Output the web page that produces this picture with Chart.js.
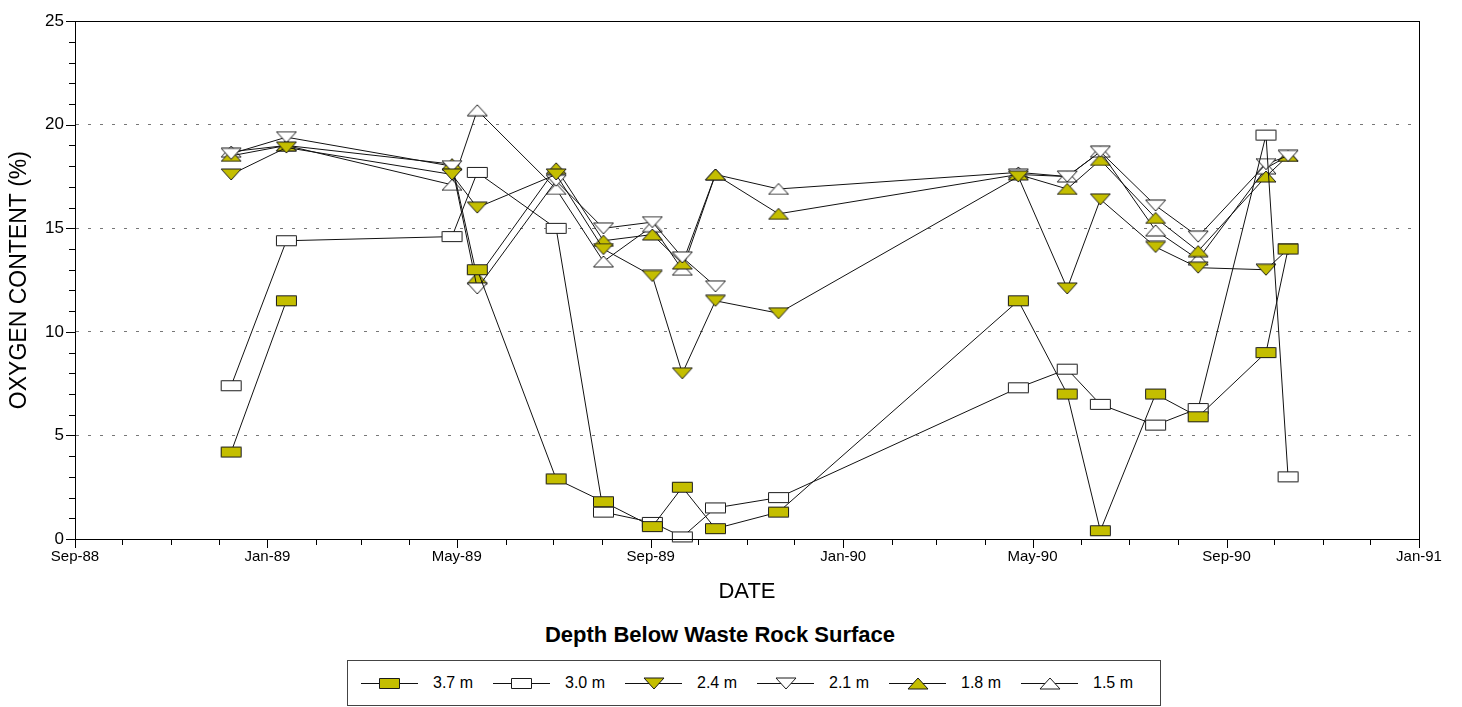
<!DOCTYPE html>
<html>
<head>
<meta charset="utf-8">
<script src="https://cdn.jsdelivr.net/npm/chart.js@4.4.1/dist/chart.umd.min.js"></script>
<style>
    body { margin: 0; background: #fff; font-family: Arial, "Liberation Sans", sans-serif; }
    #wrap { position: relative; width: 1462px; height: 707px; }
    #chartBox { position: absolute; left: 0; top: 0; width: 1462px; height: 620px; }
    #legendTitle { position: absolute; left: 0; top: 622px; width: 1440px; text-align: center; font-weight: bold; font-size: 22px; }
    #legend { position: absolute; left: 347px; top: 660px; width: 812px; height: 44px; border: 1px solid #444; box-sizing: content-box; }
    .item { position: absolute; top: 0; height: 44px; display: flex; align-items: center; font-size: 16px; }
    .item span { margin-left: 15px; }
</style>
</head>
<body>
<div id="wrap">
    <div id="chartBox"><canvas id="grafico"></canvas></div>
    <div id="legendTitle">Depth Below Waste Rock Surface</div>
    <div id="legend"></div>
</div>
<script>
// fechas de muestreo
const fechas = ['1988-12-09', '1989-01-13', '1989-04-28', '1989-05-14', '1989-07-03', '1989-08-02',
    '1989-09-02', '1989-09-21', '1989-10-12', '1989-11-21', '1990-04-22', '1990-05-23',
    '1990-06-13', '1990-07-18', '1990-08-14', '1990-09-26', '1990-10-10'];

// contenido de oxigeno (%) por profundidad
const prof37 = [4.2, 11.5, null, 13.0, 2.9, 1.8, 0.6, 2.5, 0.5, 1.3, 11.5, 7.0, 0.4, 7.0, 5.9, 9.0, 14.0];
const prof30 = [7.4, 14.4, 14.6, 17.7, 15.0, 1.3, 0.8, 0.1, 1.5, 2.0, 7.3, 8.2, 6.5, 5.5, 6.3, 19.5, 3.0];
const prof24 = [17.6, 18.9, 17.6, 16.0, 17.6, 14.0, 12.7, 8.0, 11.5, 10.9, 17.5, 12.1, 16.4, 14.1, 13.1, 13.0, 14.0];
const prof21 = [18.6, 19.4, 18.0, 12.1, 17.3, 15.0, 15.3, 13.6, 12.2, null, 17.6, 17.5, 18.7, 16.1, 14.6, 18.1, 18.5];
const prof18 = [18.5, 19.0, 18.1, 12.6, 17.9, 14.4, 14.7, 13.3, 17.6, 15.7, 17.6, 16.9, 18.3, 15.5, 13.9, 17.5, 18.5];
const prof15 = [18.7, 19.0, 17.1, 20.7, 16.9, 13.4, 15.1, 13.0, 17.6, 16.9, 17.7, 17.5, 18.7, 14.9, 13.5, 17.9, 18.5];

const etiquetas = ['3.7 m', '3.0 m', '2.4 m', '2.1 m', '1.8 m', '1.5 m'];
const meses = ['Jan', 'Feb', 'Mar', 'Apr', 'May', 'Jun', 'Jul', 'Aug', 'Sep', 'Oct', 'Nov', 'Dec'];

const AMARILLO = '#C4BE00';
const INICIO = Date.UTC(1988, 8, 1);
const FIN = Date.UTC(1991, 0, 1);
const DIA = 86400000;

function aDia(s) {
    const [a, m, d] = s.split('-').map(Number);
    return (Date.UTC(a, m - 1, d) - INICIO) / DIA;
}

// un tick por mes, etiqueta cada 4 meses
const ticksMes = [];
for (let i = 0; i <= 28; i++) {
    const a = 1988 + Math.floor((8 + i) / 12);
    const m = (8 + i) % 12;
    ticksMes.push({ value: (Date.UTC(a, m, 1) - INICIO) / DIA, mes: m, anio: a, mayor: i % 4 === 0 });
}

function crearMarcador(forma, relleno, w, h) {
    const c = document.createElement('canvas');
    c.width = w + 2;
    c.height = h + 2;
    const g = c.getContext('2d');
    g.beginPath();
    if (forma === 'rect') {
        g.rect(1.5, 1.5, w - 1, h - 1);
    } else if (forma === 'up') {
        g.moveTo(1 + w / 2, 1); g.lineTo(w + 1, h + 1); g.lineTo(1, h + 1); g.closePath();
    } else {
        g.moveTo(1, 1); g.lineTo(w + 1, 1); g.lineTo(1 + w / 2, h + 1); g.closePath();
    }
    g.fillStyle = relleno;
    g.fill();
    g.lineWidth = 1;
    g.strokeStyle = '#1a1a1a';
    g.stroke();
    return c;
}

const marcadores = [
    crearMarcador('rect', AMARILLO, 21, 11),
    crearMarcador('rect', '#fff', 21, 11),
    crearMarcador('down', AMARILLO, 20, 11),
    crearMarcador('down', '#fff', 20, 11),
    crearMarcador('up', AMARILLO, 20, 11),
    crearMarcador('up', '#fff', 20, 11)
];
const series = [prof37, prof30, prof24, prof21, prof18, prof15];

const datasets = series.map((vals, i) => ({
    label: etiquetas[i],
    data: fechas.map((f, j) => ({ x: aDia(f), y: vals[j] })),
    borderColor: '#111',
    borderWidth: 1,
    pointStyle: marcadores[i],
    pointRadius: 6,
    pointHoverRadius: 6,
    spanGaps: false,
    tension: 0,
    clip: false
}));

// marco y marcas de los ejes
const marcoPlugin = {
    id: 'marco',
    afterDraw(chart) {
        const { ctx, chartArea: a, scales } = chart;
        ctx.save();
        ctx.strokeStyle = '#000';
        ctx.lineWidth = 1;
        ctx.beginPath();
        ticksMes.forEach(t => {
            const x = Math.round(scales.x.getPixelForValue(t.value)) + 0.5;
            ctx.moveTo(x, a.bottom);
            ctx.lineTo(x, a.bottom + (t.mayor ? 9 : 6));
        });
        for (let v = 0; v <= 25; v++) {
            const y = Math.round(scales.y.getPixelForValue(v)) + 0.5;
            ctx.moveTo(a.left, y);
            ctx.lineTo(a.left - (v % 5 === 0 ? 9 : 6), y);
        }
        ctx.stroke();
        ctx.strokeRect(Math.round(a.left) + 0.5, Math.round(a.top) + 0.5,
            Math.round(a.right - a.left), Math.round(a.bottom - a.top));
        ctx.restore();
    }
};

Chart.defaults.font.family = 'Arial, "Liberation Sans", sans-serif';
Chart.defaults.color = '#000';

new Chart(document.getElementById('grafico').getContext('2d'), {
    type: 'line',
    data: { datasets },
    options: {
        responsive: true,
        maintainAspectRatio: false,
        animation: false,
        layout: { padding: { top: 3, right: 43, left: 0, bottom: 0 } },
        plugins: { legend: { display: false }, tooltip: { enabled: false } },
        scales: {
            x: {
                type: 'linear',
                min: 0,
                max: (FIN - INICIO) / DIA,
                afterBuildTicks: s => { s.ticks = ticksMes.map(t => ({ value: t.value })); },
                afterFit: s => { s.height = 81; },
                ticks: {
                    autoSkip: false,
                    maxRotation: 0,
                    padding: 9,
                    font: { size: 15 },
                    callback: (v, i) => {
                        const t = ticksMes[i];
                        return t && t.mayor ? meses[t.mes] + '-' + String(t.anio).slice(2) : '';
                    }
                },
                grid: { display: true, drawOnChartArea: false, drawTicks: false },
                border: { display: true, color: '#000' },
                title: { display: true, text: 'DATE', font: { size: 22 }, padding: { top: 0, bottom: 15 } }
            },
            y: {
                min: 0,
                max: 25,
                afterFit: s => { s.width = 75; },
                ticks: {
                    stepSize: 1,
                    autoSkip: false,
                    padding: 11,
                    font: { size: 17 },
                    callback: v => (v % 5 === 0 ? v : '')
                },
                grid: {
                    drawTicks: false,
                    color: c => (c.tick && c.tick.value % 5 === 0 && c.tick.value > 0 && c.tick.value < 25) ? '#777' : 'rgba(0,0,0,0)'
                },
                border: { display: true, color: '#000', dash: [3, 9] },
                title: { display: true, text: 'OXYGEN CONTENT (%)', font: { size: 23 }, padding: { top: 6, bottom: 0 } }
            }
        }
    },
    plugins: [marcoPlugin]
});

// leyenda
const leyenda = document.getElementById('legend');
etiquetas.forEach((txt, i) => {
    const item = document.createElement('div');
    item.className = 'item';
    item.style.left = (13 + i * 132) + 'px';
    const c = document.createElement('canvas');
    c.width = 57;
    c.height = 16;
    const g = c.getContext('2d');
    g.strokeStyle = '#111';
    g.lineWidth = 1;
    g.beginPath();
    g.moveTo(0, 8.5);
    g.lineTo(57, 8.5);
    g.stroke();
    const m = marcadores[i];
    g.drawImage(m, Math.round(28.5 - m.width / 2), Math.round(8.5 - m.height / 2));
    const s = document.createElement('span');
    s.textContent = txt;
    item.appendChild(c);
    item.appendChild(s);
    leyenda.appendChild(item);
});
</script>
</body>
</html>
